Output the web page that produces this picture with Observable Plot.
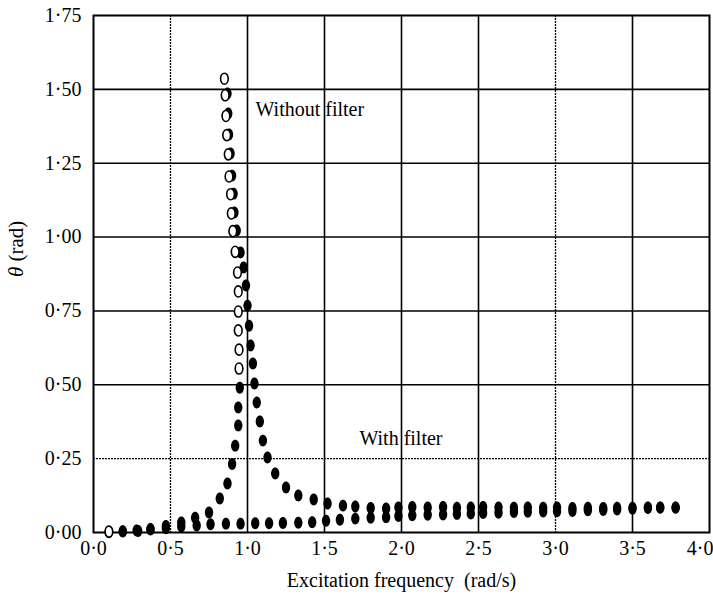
<!DOCTYPE html>
<html>
<head>
<meta charset="utf-8">
<script src="https://cdn.jsdelivr.net/npm/d3@7"></script>
<script src="https://cdn.jsdelivr.net/npm/@observablehq/plot@0.6"></script>
<style>
  html, body { margin: 0; padding: 0; background: #fff; }
  #chart svg { display: block; }
</style>
</head>
<body>
<div id="chart"></div>
<script>
// ---- data ----
const xTicks = [0, 0.5, 1, 1.5, 2, 2.5, 3, 3.5, 4];
const yTicks = [0, 0.25, 0.5, 0.75, 1, 1.25, 1.5, 1.75];

// Without filter: filled markers
const noFilterX = [0.10, 0.19, 0.28, 0.37, 0.47, 0.57, 0.66, 0.75, 0.82, 0.87, 0.90, 0.92, 0.94, 0.94, 0.95,
  0.87, 0.875, 0.88, 0.89, 0.90, 0.91, 0.915, 0.93, 0.955, 0.975, 0.99, 1.00, 1.01, 1.02, 1.035, 1.045,
  1.06, 1.08, 1.10, 1.13, 1.18, 1.25, 1.33, 1.43, 1.52, 1.62, 1.70, 1.80, 1.90,
  1.98, 2.07, 2.17, 2.27, 2.36, 2.45, 2.53, 2.63, 2.73, 2.82, 2.92, 3.01, 3.11, 3.21, 3.31, 3.40, 3.50, 3.60, 3.68, 3.78];
const noFilterY = [0.003, 0.004, 0.007, 0.012, 0.022, 0.034, 0.050, 0.068, 0.115, 0.166, 0.232, 0.294, 0.362, 0.423, 0.490,
  1.486, 1.418, 1.347, 1.283, 1.208, 1.147, 1.083, 1.022, 0.948, 0.897, 0.836, 0.768, 0.700, 0.633, 0.572, 0.504,
  0.440, 0.376, 0.311, 0.254, 0.200, 0.152, 0.125, 0.112, 0.098, 0.091, 0.088, 0.083, 0.081,
  0.085, 0.086, 0.085, 0.086, 0.084, 0.085, 0.086, 0.085, 0.084, 0.085, 0.084, 0.085, 0.083, 0.084, 0.083, 0.084, 0.084, 0.085, 0.085, 0.085];

// Without filter: open markers (jump branch)
const hollowX = [0.10, 0.85, 0.855, 0.86, 0.865, 0.875, 0.88, 0.89, 0.895, 0.905, 0.92, 0.935, 0.94, 0.94, 0.94, 0.945, 0.945];
const hollowY = [0.003, 1.536, 1.48, 1.41, 1.345, 1.28, 1.205, 1.145, 1.08, 1.02, 0.95, 0.88, 0.816, 0.748, 0.684, 0.619, 0.555];

// With filter: filled markers
const withFilterX = [0.10, 0.19, 0.29, 0.37, 0.47, 0.57, 0.67, 0.76, 0.86, 0.955, 1.05, 1.14, 1.23, 1.33, 1.42, 1.51, 1.60, 1.70, 1.80, 1.90,
  1.98, 2.07, 2.17, 2.27, 2.36, 2.45, 2.53, 2.63, 2.73, 2.82, 2.92, 3.01, 3.11, 3.21, 3.31, 3.40, 3.50, 3.60, 3.68, 3.78];
const withFilterY = [0.001, 0.003, 0.005, 0.010, 0.014, 0.020, 0.024, 0.028, 0.030, 0.030, 0.031, 0.031, 0.032, 0.033, 0.035, 0.040, 0.043, 0.047, 0.050, 0.052,
  0.056, 0.058, 0.060, 0.061, 0.063, 0.064, 0.066, 0.067, 0.069, 0.070, 0.071, 0.072, 0.073, 0.075, 0.076, 0.078, 0.080, 0.083, 0.084, 0.084];

const annotations = ["Without filter", "With filter"];
const annotX = [1.052, 1.727];
const annotY = [1.43, 0.318];

const xLabel = "Excitation frequency  (rad/s)";
const yLabelSymbol = "θ";
const yLabelUnit = " (rad)";
const yLabelAt = {x: -0.5, y: 0.96};   // label anchor, in data units

// ---- build ----
const zip = (xs, ys) => xs.map((x, i) => ({x, y: ys[i]}));
const filledNo = zip(noFilterX, noFilterY);
const hollowNo = zip(hollowX, hollowY);
const filledWith = zip(withFilterX, withFilterY);
const notes = annotations.map((t, i) => ({t, x: annotX[i], y: annotY[i]}));

const ellipse = {
  draw(ctx, size) {
    const r = Math.sqrt(size / Math.PI);
    const rx = r * 0.8, ry = r * 1.15, k = 0.5523;
    ctx.moveTo(rx, 0);
    ctx.bezierCurveTo(rx, ry * k, rx * k, ry, 0, ry);
    ctx.bezierCurveTo(-rx * k, ry, -rx, ry * k, -rx, 0);
    ctx.bezierCurveTo(-rx, -ry * k, -rx * k, -ry, 0, -ry);
    ctx.bezierCurveTo(rx * k, -ry, rx, -ry * k, rx, 0);
    ctx.closePath();
  }
};

const fmtX = d => d.toFixed(1).replace(".", "·");
const fmtY = d => d.toFixed(2).replace(".", "·");
const xMax = d3.max(xTicks);
const xGrid = xTicks.filter(d => d > 0 && d < xMax);
const yGrid = yTicks.filter(d => d > 0 && d < d3.max(yTicks));

const chart = Plot.plot({
  width: 713,
  height: 601,
  marginLeft: 93,
  marginRight: 4,
  marginTop: 15,
  marginBottom: 69,
  style: {fontFamily: "'Liberation Serif', 'Times New Roman', serif", fontSize: "20px", color: "#000", background: "#fff"},
  x: {domain: [0, 4]},
  y: {domain: [0, 1.75]},
  marks: [
    Plot.ruleX(xGrid.filter(d => d !== 3 && d !== 0.5), {stroke: "#000", strokeWidth: 1.6}),
    Plot.ruleX(xGrid.filter(d => d === 3 || d === 0.5), {stroke: "#000", strokeWidth: 1.3, strokeDasharray: "2,1"}),
    Plot.ruleY(yGrid.filter(d => d !== 0.25), {stroke: "#000", strokeWidth: 1.6}),
    Plot.ruleY(yGrid.filter(d => d === 0.25), {stroke: "#000", strokeWidth: 1.3, strokeDasharray: "2,1"}),
    Plot.frame({stroke: "#000", strokeWidth: 2}),
    Plot.axisX(xTicks.filter(d => d < xMax), {tickSize: 0, tickPadding: 8, tickFormat: fmtX, label: null, fontSize: 20}),
    Plot.axisX(xTicks.filter(d => d === xMax), {tickSize: 0, tickPadding: 8, tickFormat: fmtX, label: null, fontSize: 20, textAnchor: "end", dx: 4}),
    Plot.axisY(yTicks, {tickSize: 0, tickPadding: 12, tickFormat: fmtY, label: null, fontSize: 20}),
    Plot.dot(filledWith, {x: "x", y: "y", r: 5.2, symbol: ellipse, fill: "#000", stroke: "none"}),
    Plot.dot(filledNo, {x: "x", y: "y", r: 5.2, symbol: ellipse, fill: "#000", stroke: "none"}),
    Plot.dot(hollowNo, {x: "x", y: "y", r: 4.8, symbol: ellipse, fill: "#fff", stroke: "#000", strokeWidth: 1.6}),
    Plot.text(notes, {x: "x", y: "y", text: "t", textAnchor: "start", fontSize: 20, fill: "#000"}),
    Plot.text([xLabel], {frameAnchor: "bottom", dy: 54, fontSize: 20, fill: "#000"}),
    Plot.text([yLabelAt], {x: "x", y: "y", text: () => yLabelSymbol + yLabelUnit, rotate: -90, fontSize: 21, fill: "#000", className: "ylabel"})
  ]
});
// italicise the θ within the rotated y label
d3.select(chart).selectAll(".ylabel text").each(function () {
  const t = d3.select(this);
  t.text(null);
  t.append("tspan").attr("font-style", "italic").text(yLabelSymbol);
  t.append("tspan").text(yLabelUnit);
});
document.getElementById("chart").appendChild(chart);
</script>
</body>
</html>
